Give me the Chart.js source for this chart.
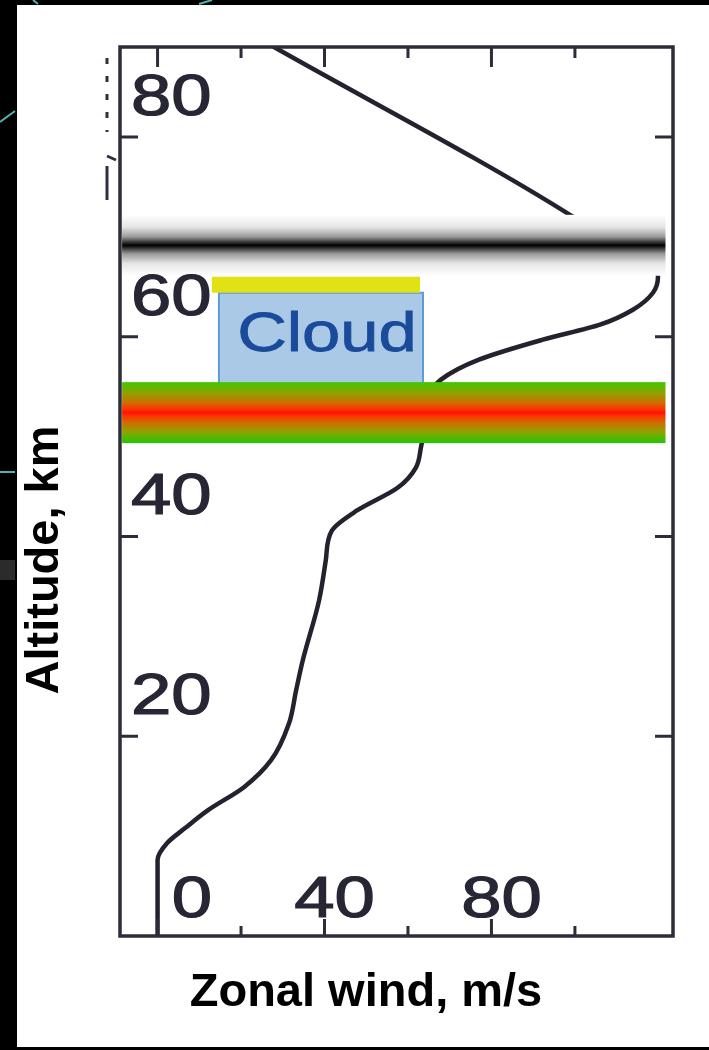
<!DOCTYPE html>
<html lang="en">
<head>
    <meta charset="UTF-8">
    <title>Zonal Wind Profile</title>
    <script src="https://cdn.jsdelivr.net/npm/chart.js"></script>
    <style>
        body, html {
            margin: 0;
            padding: 0;
            background: #000;
            overflow: hidden;
        }
        canvas { display: block; }
    </style>
</head>
<body>
    <canvas id="windChart" width="709" height="1050"></canvas>

    <script>
        // Wind profile, m/s against altitude, km
        const altitude = [0, 7.6, 9.3, 10.8, 12.6, 14.9, 17.6, 21.3, 24.6, 27.6, 33.6, 37.6, 40.6, 42.6, 44.9,
            46.9, 48.9, 50.6, 54.2, 55.7, 57.7, 59.7, 61.2, 62.7, 64.4, 66.0, 72.2, 89.0];
        const windSpeed = [0, 0, 2.3, 6.6, 12.1, 20.7, 27.2, 31.5, 33.2, 34.8, 38.7, 40.3, 41.8, 47.8, 57.6,
            61.9, 63.1, 63.8, 65.3, 67.9, 77.0, 92.3, 106.0, 113.9, 118.7, 119.9, 98.8, 27.9];

        const altitudeTicks = [20, 40, 60, 80];
        const windTicks = [0, 20, 40, 60, 80, 100];
        const windLabels = [0, 40, 80];

        // Layers: [min, max] in wind units across, km up
        const bandSpan = [-8.5, 121.7];
        const upperBand = [66.1, 72.2];
        const lowerBand = [49.35, 55.45];
        const cloudWind = [14.7, 63.6];
        const cloudAlt = [53, 64.4];
        const capWind = [13.0, 62.9];
        const capAlt = [64.4, 66.0];

        const stretch = 1.25; // the scanned lettering is wide

        function stretchedText(ctx, text, x, y, font, color, align, weight) {
            ctx.save();
            ctx.translate(x, y);
            ctx.scale(stretch, 1);
            ctx.font = font;
            ctx.fillStyle = color;
            ctx.textAlign = align;
            ctx.textBaseline = 'alphabetic';
            ctx.fillText(text, 0, 0);
            if (weight) {
                ctx.strokeStyle = color;
                ctx.lineWidth = weight;
                ctx.strokeText(text, 0, 0);
            }
            ctx.restore();
        }

        const decor = {
            id: 'profileDecor',
            beforeDraw(chart) {
                const { ctx } = chart;
                ctx.save();
                ctx.fillStyle = '#000';
                ctx.fillRect(0, 0, chart.width, chart.height);
                ctx.fillStyle = '#fff';
                ctx.fillRect(17, 5, chart.width - 17, 1042);

                // slide leftovers round the panel
                ctx.strokeStyle = '#52b3b3';
                ctx.lineWidth = 2;
                ctx.beginPath();
                ctx.moveTo(0, 472); ctx.lineTo(15, 472);
                ctx.moveTo(0, 122); ctx.lineTo(15, 111);
                ctx.moveTo(33, 0); ctx.lineTo(38, 4);
                ctx.moveTo(199, 4); ctx.lineTo(212, 0);
                ctx.stroke();
                ctx.fillStyle = '#2b2b2b';
                ctx.fillRect(0, 560, 15, 20);

                // old tick stubs left of the frame
                ctx.strokeStyle = '#2e3040';
                ctx.lineWidth = 3;
                ctx.setLineDash([6, 12]);
                ctx.beginPath();
                ctx.moveTo(107, 58); ctx.lineTo(107, 132);
                ctx.stroke();
                ctx.setLineDash([]);
                ctx.beginPath();
                ctx.moveTo(107, 156); ctx.lineTo(116, 160);
                ctx.moveTo(107, 166); ctx.lineTo(107, 200);
                ctx.stroke();
                ctx.restore();
            },
            beforeDatasetsDraw(chart) {
                const { ctx, scales: { x, y } } = chart;
                ctx.save();
                // cloud deck
                const cl = x.getPixelForValue(cloudWind[0]), cr = x.getPixelForValue(cloudWind[1]);
                const ct = y.getPixelForValue(cloudAlt[1]), cb = y.getPixelForValue(cloudAlt[0]);
                ctx.fillStyle = '#a9c9e6';
                ctx.fillRect(cl, ct, cr - cl, cb - ct);
                ctx.strokeStyle = '#5e9bd8';
                ctx.lineWidth = 2;
                ctx.strokeRect(cl, ct, cr - cl, cb - ct);
                stretchedText(ctx, 'Cloud', (cl + cr) / 2 + 6, y.getPixelForValue(58.6),
                    '55px "Liberation Sans", Arial, sans-serif', '#1a4a9a', 'center', 0.8);

                // yellow cap on top of the cloud
                const yl = x.getPixelForValue(capWind[0]), yr = x.getPixelForValue(capWind[1]);
                const yt = y.getPixelForValue(capAlt[1]), yb = y.getPixelForValue(capAlt[0]);
                ctx.fillStyle = '#e2e116';
                ctx.fillRect(yl, yt, yr - yl, yb - yt);
                ctx.restore();
            },
            afterDatasetsDraw(chart) {
                const { ctx, chartArea: area, scales: { x, y } } = chart;
                ctx.save();
                const bl = x.getPixelForValue(bandSpan[0]), br = x.getPixelForValue(bandSpan[1]);

                // dark band
                let top = y.getPixelForValue(upperBand[1]), bot = y.getPixelForValue(upperBand[0]);
                let g = ctx.createLinearGradient(0, top, 0, bot);
                [[0, '#ffffff'], [0.2, '#e6e6e6'], [0.36, '#9a9a9a'], [0.46, '#2a2a2a'], [0.5, '#000000'],
                    [0.54, '#2a2a2a'], [0.64, '#9a9a9a'], [0.8, '#e6e6e6'], [1, '#ffffff']]
                    .forEach(([o, c]) => g.addColorStop(o, c));
                ctx.fillStyle = g;
                ctx.fillRect(bl, top, br - bl, bot - top);

                // green-red band
                top = y.getPixelForValue(lowerBand[1]); bot = y.getPixelForValue(lowerBand[0]);
                g = ctx.createLinearGradient(0, top, 0, bot);
                [[0, '#40c800'], [0.18, '#8ea200'], [0.34, '#d06c00'], [0.45, '#ff3000'], [0.5, '#ff1200'],
                    [0.55, '#ff3000'], [0.66, '#d06c00'], [0.82, '#8ea200'], [1, '#20c800']]
                    .forEach(([o, c]) => g.addColorStop(o, c));
                ctx.fillStyle = g;
                ctx.fillRect(bl, top, br - bl, bot - top);

                // frame and inward ticks
                ctx.strokeStyle = '#2b2d3a';
                ctx.lineWidth = 3.5;
                ctx.strokeRect(area.left, area.top, area.right - area.left, area.bottom - area.top);
                ctx.lineWidth = 3;
                ctx.beginPath();
                altitudeTicks.forEach(t => {
                    const py = y.getPixelForValue(t);
                    ctx.moveTo(area.left, py); ctx.lineTo(area.left + 18, py);
                    ctx.moveTo(area.right, py); ctx.lineTo(area.right - 18, py);
                });
                windTicks.forEach(t => {
                    const px = x.getPixelForValue(t);
                    const major = t % 40 === 0;
                    ctx.moveTo(px, area.top); ctx.lineTo(px, area.top + (major ? 20 : 11));
                    ctx.moveTo(px, area.bottom); ctx.lineTo(px, area.bottom - (major ? 17 : 10));
                });
                ctx.stroke();

                // tick labels sit inside the frame
                const tickFont = '58px "Liberation Sans", Arial, sans-serif';
                altitudeTicks.forEach(t => {
                    stretchedText(ctx, String(t), area.left + 11, y.getPixelForValue(t) - 22,
                        tickFont, '#262634', 'left', 1.2);
                });
                windLabels.forEach(t => {
                    const px = Math.max(x.getPixelForValue(t) + 10, area.left + 72);
                    stretchedText(ctx, String(t), px, area.bottom - 19, tickFont, '#262634', 'center', 1.2);
                });

                // axis titles
                ctx.fillStyle = '#000';
                ctx.font = 'bold 47px "Liberation Sans", Arial, sans-serif';
                ctx.textAlign = 'center';
                ctx.textBaseline = 'alphabetic';
                ctx.fillText('Zonal wind, m/s', 366, 1006);
                ctx.translate(58, 560);
                ctx.rotate(-Math.PI / 2);
                ctx.fillText('Altitude, km', 0, 0);
                ctx.restore();
            }
        };

        const ctx = document.getElementById('windChart').getContext('2d');
        new Chart(ctx, {
            type: 'line',
            data: {
                datasets: [{
                    label: 'Zonal wind',
                    data: windSpeed.map((v, i) => ({ x: v, y: altitude[i] })),
                    borderColor: '#23232f',
                    borderWidth: 4.5,
                    pointRadius: 0,
                    cubicInterpolationMode: 'monotone',
                    borderCapStyle: 'round',
                    borderJoinStyle: 'round'
                }]
            },
            options: {
                indexAxis: 'y',
                responsive: false,
                animation: false,
                layout: { padding: { left: 120, top: 47, right: 36, bottom: 114 } },
                scales: {
                    x: { type: 'linear', min: -9, max: 123.5, display: false },
                    y: { type: 'linear', min: 0, max: 89, display: false }
                },
                plugins: {
                    legend: { display: false },
                    tooltip: { enabled: false }
                }
            },
            plugins: [decor]
        });
    </script>
</body>
</html>
